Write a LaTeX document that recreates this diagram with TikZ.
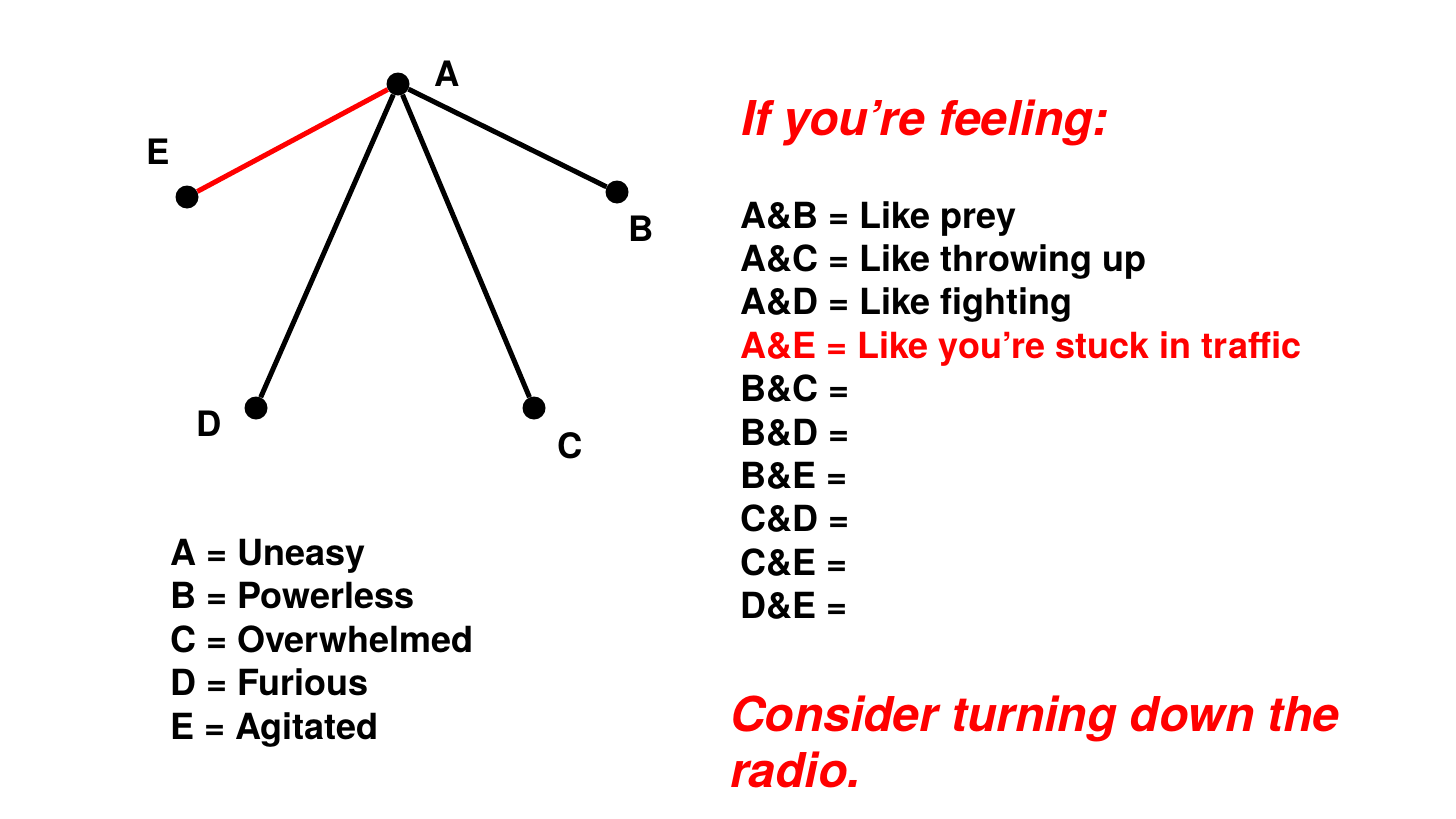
\documentclass[tikz,border=0pt]{standalone}
\usepackage{fontspec}
\setmainfont{TeX Gyre Heros}
\usetikzlibrary{positioning}
\definecolor{Alert}{HTML}{FF0000}
\definecolor{Ink}{HTML}{000000}
\tikzset{
    dot/.style={circle, fill=Ink, inner sep=0pt, minimum size=23pt},
    letter/.style={inner sep=0pt, font=\bfseries\fontsize{35}{42}\selectfont},
    link/.style={line width=5pt, color=Ink},
    hotlink/.style={line width=5pt, color=Alert},
    pairtext/.style={anchor=base west, inner sep=0pt, font=\bfseries\fontsize{36}{44}\selectfont},
    keytext/.style={anchor=base west, inner sep=0pt, font=\bfseries\fontsize{36}{44}\selectfont},
    bigtext/.style={anchor=base west, inner sep=0pt, text=Alert, font=\bfseries\itshape\fontsize{48}{56}\selectfont},
}
\begin{document}
\begin{tikzpicture}[x=1pt, y=-1pt]
    \useasboundingbox (0,0) rectangle (1456,819);

    % Punti del grafo
    \node[dot] (a) at (398,84) {};
    \node[dot] (b) at (617,192) {};
    \node[dot] (c) at (534,408) {};
    \node[dot] (d) at (256,408) {};
    \node[dot] (e) at (187,197) {};

    % Lettere
    \node[letter] (labA) at (447,74) {A};
    \node[letter] (labB) at (641,229) {B};
    \node[letter] (labC) at (570,446) {C};
    \node[letter] (labD) at (209,424) {D};
    \node[letter] (labE) at (158,152) {E};

    % Collegamenti
    \draw[hotlink] (a) -- (e);
    \draw[link] (a) -- (b);
    \draw[link] (a) -- (c);
    \draw[link] (a) -- (d);

    % Legenda
    \foreach \txt [count=\i from 0] in {A = Uneasy, B = Powerless, C = Overwhelmed, D = Furious, E = Agitated}
        \node[keytext] (key\i) at (170, {565+43.5*\i}) {\txt};

    % Titolo
    \node[bigtext] (title) at (741,135) {If you’re feeling:};

    % Coppie
    \foreach \col/\txt [count=\i from 0] in {Ink/{A\&B = Like prey}, Ink/{A\&C = Like throwing up}, Ink/{A\&D = Like fighting}, Alert/{A\&E = Like you’re stuck in traffic}, Ink/{B\&C =}, Ink/{B\&D =}, Ink/{B\&E =}, Ink/{C\&D =}, Ink/{C\&E =}, Ink/{D\&E =}}
        \node[pairtext, text=\col] (pair\i) at (740, {228+43.4*\i}) {\txt};

    % Conclusione
    \node[bigtext] (advice) at (730,731) {Consider turning down the};
    \node[bigtext] (advice2) at (730,787) {radio.};
\end{tikzpicture}
\end{document}
